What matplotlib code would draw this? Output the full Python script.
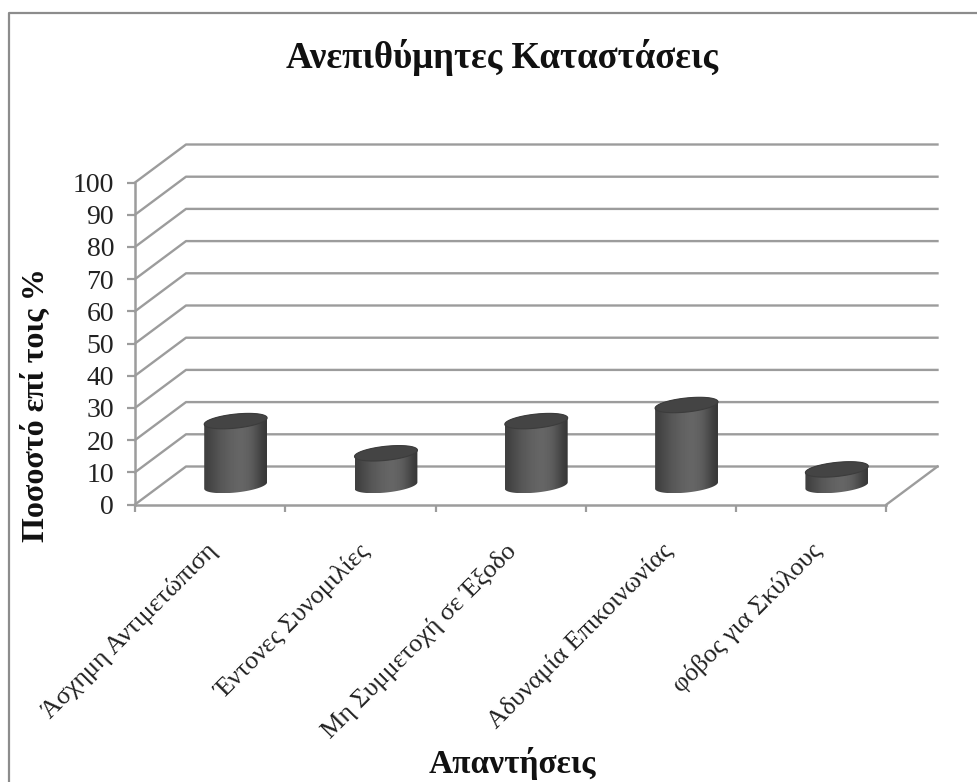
import numpy as np
import matplotlib
matplotlib.use("Agg")
import matplotlib.pyplot as plt
from matplotlib.patches import Polygon
from matplotlib.lines import Line2D

categories = ["Άσχημη Αντιμετώπιση", "Έντονες Συνομιλίες", "Μη Συμμετοχή σε Έξοδο",
              "Αδυναμία Επικοινωνίας", "φόβος για Σκύλους"]
values = [20, 10, 20, 25, 5]
y_ticks = [0, 10, 20, 30, 40, 50, 60, 70, 80, 90, 100]
title = "Ανεπιθύμητες Καταστάσεις"
x_title = "Απαντήσεις"
y_title = "Ποσοστό επί τοις %"

W, H = 978, 782
plt.rcParams['font.family'] = ['Liberation Serif', 'DejaVu Serif']

fig = plt.figure(figsize=(W / 100, H / 100), dpi=100)
fig.patch.set_facecolor("white")

# front plane of the 3d box
left, right, bottom, top = 135, 886.5, 504.5, 182.5
ax = fig.add_axes([left / W, 1 - bottom / H, (right - left) / W, (bottom - top) / H])
n = len(categories)
ax.set_xlim(0, n)
ax.set_ylim(0, 100)
ax.patch.set_alpha(0)

# pixels per data unit, the depth of the box and the ellipse are sized from these
px_x = (right - left) / n
px_y = (bottom - top) / 100
dx = 51 / px_x
dy = 38 / px_y
grid_c = "#9c9c9c"

for v in y_ticks:
    ax.plot([0, dx, n + dx], [v, v + dy, v + dy], color=grid_c, lw=1.7, clip_on=False, zorder=1)
ax.plot([n, n + dx], [0, dy], color=grid_c, lw=1.7, clip_on=False, zorder=1)

ax.set_xticks(range(n + 1))
ax.set_xticklabels([])
ax.set_yticks(y_ticks)
ax.tick_params(axis="y", length=6, width=1.6, color=grid_c, labelsize=20, pad=9, labelcolor="#222222")
ax.tick_params(axis="x", length=5, width=1.6, color=grid_c)
for s in ["top", "right"]:
    ax.spines[s].set_visible(False)
for s in ["left", "bottom"]:
    ax.spines[s].set_color(grid_c)
    ax.spines[s].set_linewidth(1.8)


def ellipse(t, cx, cy):
    # slightly tilted ellipse, rising to the right
    ex = (31.3 * np.cos(t) + 3 * np.sin(t)) / px_x
    ey = (2.5 * np.cos(t) + 7.3 * np.sin(t)) / px_y
    return cx + ex, cy + ey


# cylinders
shade = np.array([[.25, .28, .31, .34, .36, .38, .39, .40, .39, .37, .33, .27, .22]])
t_r = np.arctan2(3 / px_x, 31.3 / px_x)
for i, v in enumerate(values):
    cx = i + 0.5 + dx * 0.5
    cy = 19 / px_y
    low_x, low_y = ellipse(np.linspace(t_r + np.pi, t_r + 2 * np.pi, 80), cx, cy)
    up_x, up_y = ellipse(np.linspace(t_r, t_r + np.pi, 80), cx, cy + v)
    side = np.column_stack([np.r_[low_x, up_x], np.r_[low_y, up_y]])
    im = ax.imshow(shade, cmap="gray", vmin=0, vmax=1, aspect="auto", interpolation="bicubic",
                   extent=[low_x.min(), low_x.max(), low_y.min(), up_y.max()], zorder=3)
    im.set_clip_path(Polygon(side, closed=True, transform=ax.transData))
    top_x, top_y = ellipse(np.linspace(0, 2 * np.pi, 160), cx, cy + v)
    ax.add_patch(Polygon(np.column_stack([top_x, top_y]), closed=True,
                         facecolor="#444444", edgecolor="#3c3c3c", lw=0.8, zorder=4, clip_on=False))
ax.set_xlim(0, n)
ax.set_ylim(0, 100)

# category labels hang off the ticks
label_pos = [0.47, 1.49, 2.46, 3.50, 4.49]
for pos, lab in zip(label_pos, categories):
    ax.annotate(lab, xy=(pos, 0), xycoords="data", xytext=(0, -35), textcoords="offset pixels",
                rotation=45, rotation_mode="anchor", ha="right", va="top",
                fontsize=18.8, color="#222222", annotation_clip=False)

fig.text(502 / W, 1 - 57 / H, title, ha="center", va="center", fontsize=26.6, fontweight="bold", color="#111111")
fig.text(512 / W, 1 - 764 / H, x_title, ha="center", va="center", fontsize=24, fontweight="bold", color="#111111")
fig.text(36 / W, 1 - 405 / H, y_title, ha="center", va="center", rotation=90, fontsize=23, fontweight="bold", color="#111111")

# frame is cut off at the right and bottom of the picture
fig.add_artist(Line2D([8.5 / W, 8.5 / W, 1], [0, 1 - 12.5 / H, 1 - 12.5 / H], transform=fig.transFigure,
                      color="#8c8c8c", lw=1.6))

fig.savefig("out.png", dpi=100)
